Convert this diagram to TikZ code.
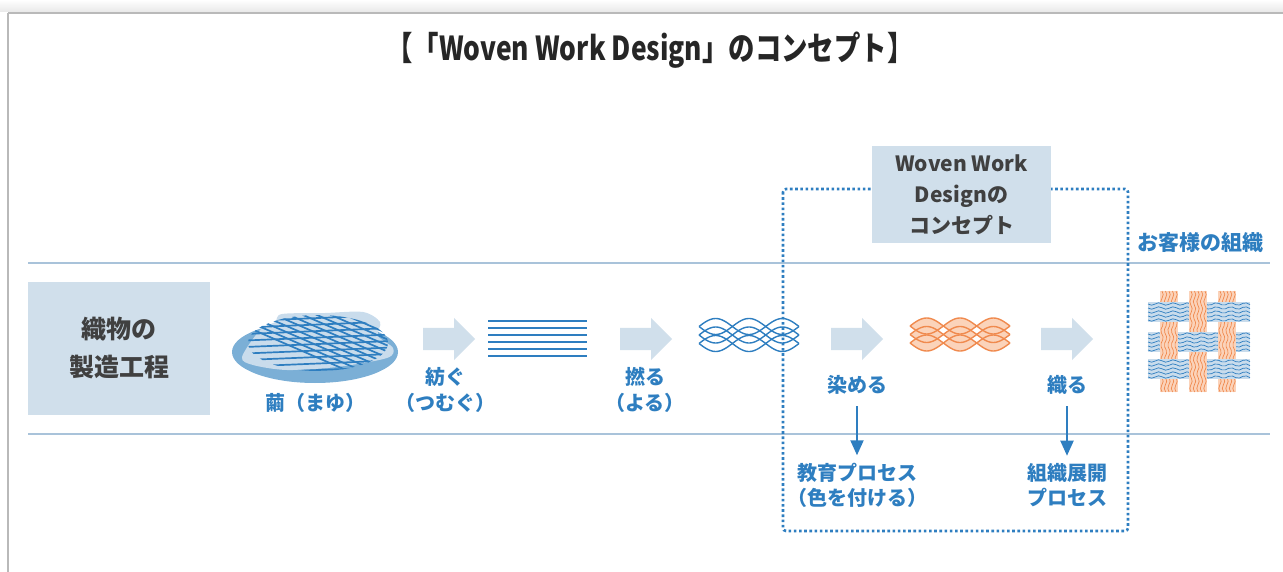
\documentclass[tikz,border=0pt]{standalone}
\usepackage{fontspec}
\usetikzlibrary{positioning,shapes.arrows,arrows.meta}

\newfontfamily\jp{Noto Sans CJK JP}
\newfontfamily\jptitle{Noto Sans CJK JP}[FakeStretch=0.8]

\definecolor{boxblue}{HTML}{D0DFEB}
\definecolor{inkblue}{HTML}{2E7EC0}
\definecolor{darktext}{HTML}{404040}
\definecolor{rulecol}{HTML}{A9C3DA}
\definecolor{orangeline}{HTML}{F08A4E}
\definecolor{orangefill}{HTML}{FBD3BA}
\definecolor{cocoonouter}{HTML}{7BAFD6}
\definecolor{cocooninner}{HTML}{C9DCEC}

% a twisted yarn: start x, middle y, line colour
\newcommand{\twist}[3]{%
  \foreach \o in {-8.5,0,8.5}{
    \draw[#3,line width=1.4pt] plot[domain=0:100,samples=60] ({#1+\x},{#2+\o+8*sin(\x*5.4)});
    \draw[#3,line width=1.4pt] plot[domain=0:100,samples=60] ({#1+\x},{#2+\o-8*sin(\x*5.4)});
  }}
% light fill inside the eyes of a yarn: start x, middle y
\newcommand{\twistfill}[2]{%
  \foreach \o in {-8.5,0,8.5}{
    \fill[orangefill] plot[domain=0:100,samples=60] ({#1+\x},{#2+\o+8*sin(\x*5.4)})
      -- plot[domain=100:0,samples=60] ({#1+\x},{#2+\o-8*sin(\x*5.4)}) -- cycle;
  }}

% one dyed warp of the fabric: centre x, top, bottom
\newcommand{\warpband}[3]{%
  \fill[orangefill] (#1-9,#2) rectangle (#1+9,#3);
  \foreach \o in {-7,-3.5,0,3.5,7}{
    \draw[orangeline,line width=0.7pt] plot[domain=0:#3-#2,samples=30] ({#1+\o+1.2*sin(\x*25)},#2+\x);
  }}
% one weft of the fabric: centre y, left, right
\newcommand{\weftband}[3]{%
  \fill[cocooninner] (#2,#1-10) rectangle (#3,#1+10);
  \foreach \o in {-8,-4,0,4,8}{
    \draw[inkblue,line width=0.7pt] plot[domain=0:#3-#2,samples=30] (#2+\x,{#1+\o+1.2*sin(\x*25)});
  }}

\tikzset{
  greybox/.style={fill=boxblue, text=darktext, align=center, inner sep=0pt},
  steplabel/.style={text=inkblue, align=center, font=\jp\bfseries\fontsize{20}{26}\selectfont},
  blockarrow/.style={single arrow, fill=boxblue, inner xsep=0pt, inner ysep=11pt,
    minimum height=52pt, single arrow head extend=10pt, anchor=tail},
  downarrow/.style={draw=inkblue, line width=2pt, -{Triangle[length=15pt,width=13pt]}},
}

\begin{document}
\begin{tikzpicture}[x=1pt,y=-1pt]
\useasboundingbox (0,0) rectangle (1283,572);

% frame
\shade[top color=white, bottom color=gray!18] (0,0) rectangle (1283,12);
\draw[gray!55,line width=1.5pt] (8,13) -- (1283,13);
\draw[gray!55,line width=1.5pt] (8,13) -- (8,572);

\node[text=black!85, font=\jptitle\bfseries\fontsize{33}{36}\selectfont] (title) at (650,50)
  {【「Woven Work Design」のコンセプト】};

% rules
\draw[rulecol,line width=1.2pt] (28,263) -- (1270,263);
\draw[rulecol,line width=1.2pt] (28,434) -- (1270,434);

\node[greybox, minimum width=182pt, minimum height=133pt,
  font=\jp\bfseries\fontsize{25}{38}\selectfont] (process) at (119,348.5) {織物の\\製造工程};

% cocoon
\fill[cocoonouter] (315,352) ellipse [x radius=83, y radius=31];
\fill[cocooninner] plot[smooth cycle] coordinates {(242,357) (260,330) (275,322) (282,314)
  (325,313) (363,312) (380,322) (378,336) (393,348) (387,358) (337,367) (287,370) (253,365)};
\begin{scope}
\clip (318,343) ellipse [x radius=70, y radius=28];
\foreach \i in {0,...,8}{
  \draw[inkblue,line width=1.7pt] (245,321+\i*6.5) -- (392,315+\i*6.5);
}
\foreach \i in {0,...,12}{
  \draw[inkblue,line width=1.7pt] (196+\i*14,305) -- (346+\i*14,370);
}
\end{scope}
\node[steplabel] (cocoon) at (315,403) {繭（まゆ）};

% spinning
\node[blockarrow] (arrspin) at (423,339) {};
\node[steplabel] (spin) at (445,390) {紡ぐ\\（つむぐ）};
\foreach \y in {320.5,327.5,...,356}{
  \draw[inkblue,line width=2pt] (488,\y) -- (587,\y);
}

% twisting
\node[blockarrow] (arrtwist) at (620,339) {};
\node[steplabel] (twist) at (645,390) {撚る\\（よる）};
\twist{699}{335}{inkblue}

% dyeing
\node[blockarrow] (arrdye) at (831,339) {};
\node[steplabel] (dye) at (857,385) {染める};
\twistfill{910}{334.5}
\twist{910}{334.5}{orangeline}

% weaving
\node[blockarrow] (arrweave) at (1041,339) {};
\node[steplabel] (weave) at (1067,385) {織る};

% concept frame
\draw[inkblue, line width=2.6pt, dash pattern=on 2.6pt off 2.6pt, rounded corners=3pt]
  (783,189) rectangle (1128,531);
\node[greybox, minimum width=179pt, minimum height=97pt,
  font=\jp\bfseries\fontsize{21}{31}\selectfont] (concept) at (961.5,194.5)
  {Woven Work\\Designの\\コンセプト};

\node[steplabel, font=\jp\bfseries\fontsize{20}{25}\selectfont] (educate) at (857,485)
  {教育プロセス\\（色を付ける）};
\node[steplabel, font=\jp\bfseries\fontsize{20}{25}\selectfont] (develop) at (1067,485)
  {組織展開\\プロセス};
\draw[downarrow, shorten <=8pt, shorten >=4pt] (dye.south) -- (educate.north);
\draw[downarrow, shorten <=8pt, shorten >=4pt] (weave.south) -- (develop.north);

% customer fabric
\node[steplabel, font=\jp\bfseries\fontsize{21}{25}\selectfont] (customer) at (1200,243) {お客様の組織};
\foreach \cx in {1169,1198,1227}{
  \warpband{\cx}{291}{392}
}
\foreach \cy in {312,342,369}{
  \weftband{\cy}{1148}{1250}
}
\foreach \cx/\cy in {1169/342,1198/312,1198/369,1227/342}{
  \begin{scope}
  \clip (\cx-10,\cy-12) rectangle (\cx+10,\cy+12);
  \warpband{\cx}{291}{392}
  \end{scope}
}
\end{tikzpicture}
\end{document}
